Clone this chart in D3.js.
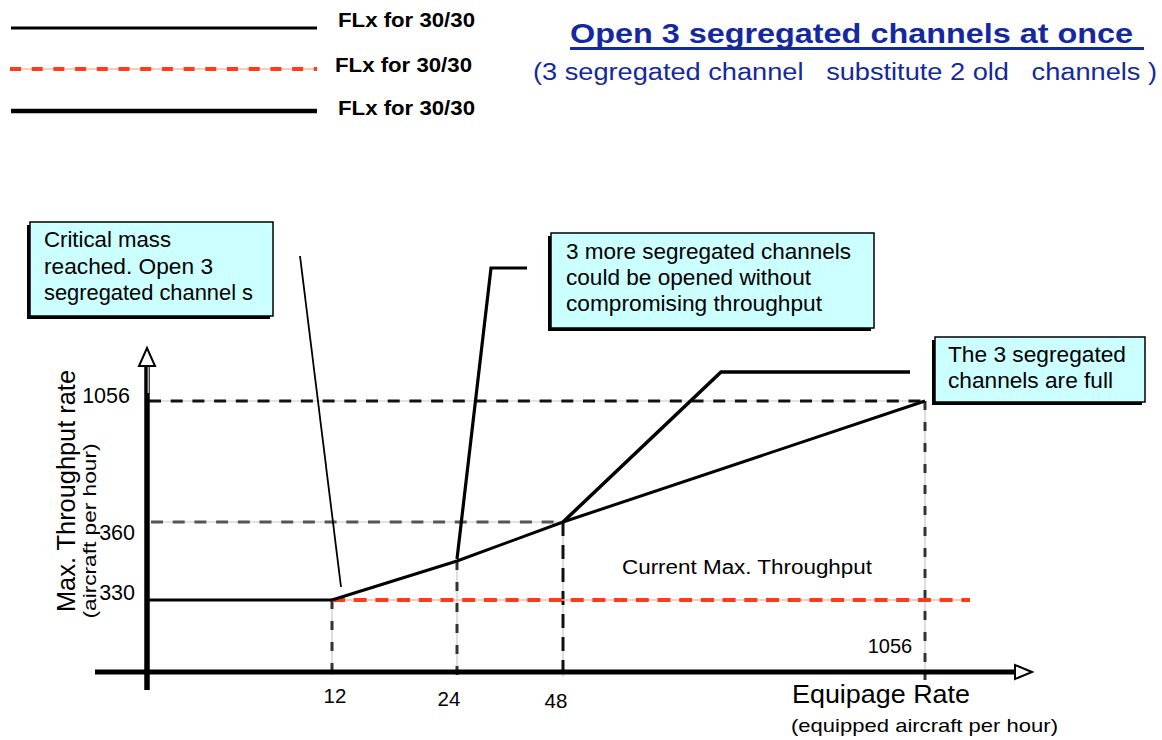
<!DOCTYPE html>
<html><head><meta charset="utf-8">
<script src="https://cdn.jsdelivr.net/npm/d3@7"></script>
<style>body{margin:0;background:#fff}svg{display:block}text{font-family:"Liberation Sans",Arial,sans-serif}</style>
</head><body><svg id="c" width="1162" height="740"></svg>
<script>
// ---- data ----
const xTicks = [12, 24, 48, 1056];
const yTicks = [330, 360, 1056];
const legendLabels = ["FLx for 30/30", "FLx for 30/30", "FLx for 30/30"];
const title = "Open 3 segregated channels at once";
const subtitle = "(3 segregated channel   substitute 2 old   channels )";
const currentMax = 330;                       // current max throughput
const growthLine = [[12,330],[24,345],[48,360],[1056,1056]]; // throughput vs equipage
const callouts = [
  ["Critical mass","reached. Open 3","segregated channel s"],
  ["3 more segregated channels","could be opened without","compromising throughput"],
  ["The 3 segregated","channels are full"]
];
const xTitle = "Equipage Rate", xSub = "(equipped aircraft per hour)";
const yTitle = "Max. Throughput rate", ySub = "(aircraft per hour)";
const noteLabel = "Current Max. Throughput";

// ---- layout ----
const svg = d3.select("#c");
const x = d3.scaleLinear().domain([0,12,24,48,1056]).range([147,332,457,563,925]);
const y = d3.scaleLinear().domain([0,330,360,1056]).range([672,600,522,401]);
const plotRight = 970, axisRight = 1032, axisLeft = 95, axisBottom = 690, axisTop = 348;
const blue = "#1428a0";

function txt(g, px, py, fs, len, s, opts={}){
  const t = g.append("text").attr("x",px).attr("y",py).attr("font-size",fs).text(s);
  if (len) t.attr("textLength",len).attr("lengthAdjust","spacingAndGlyphs");
  if (opts.bold) t.attr("font-weight","bold");
  if (opts.fill) t.attr("fill",opts.fill);
  if (opts.anchor) t.attr("text-anchor",opts.anchor);
  if (opts.pre) t.attr("xml:space","preserve").style("white-space","pre");
  return t;
}

// legend
const leg = svg.append("g");
const legY = [28, 69, 111];
function redDash(sel){
  sel.append("line").attr("stroke","#ffb8a8").attr("stroke-width",1.5);
  sel.append("line").attr("stroke","#ff3b1a").attr("stroke-width",4).attr("stroke-dasharray","11,10.7");
}
leg.append("line").attr("x1",11).attr("x2",317).attr("y1",legY[0]).attr("y2",legY[0]).attr("stroke","#000").attr("stroke-width",3);
const l2 = leg.append("g"); redDash(l2);
l2.selectAll("line").attr("x1",10).attr("x2",317).attr("y1",legY[1]).attr("y2",legY[1]);
leg.append("line").attr("x1",11).attr("x2",317).attr("y1",legY[2]).attr("y2",legY[2]).attr("stroke","#000").attr("stroke-width",4.5);
const legTx = [[338,27],[335,72],[338,115]];
legendLabels.forEach((s,i)=> txt(leg, legTx[i][0], legTx[i][1], 20, 137, s, {bold:true}));

// title
txt(svg, 570, 43, 27, 563, title, {bold:true, fill:blue});
svg.append("line").attr("x1",570).attr("x2",1144).attr("y1",48.5).attr("y2",48.5).attr("stroke",blue).attr("stroke-width",3);
txt(svg, 533, 80, 23, 624, subtitle, {fill:blue, pre:true});

// guide dashed lines
function greyDash(x1,y1,x2,y2,w,dash,col){
  svg.append("line").attr("x1",x1).attr("y1",y1).attr("x2",x2).attr("y2",y2).attr("stroke","#c8c8c8").attr("stroke-width",1.2);
  svg.append("line").attr("x1",x1).attr("y1",y1).attr("x2",x2).attr("y2",y2).attr("stroke",col).attr("stroke-width",w).attr("stroke-dasharray",dash);
}
greyDash(x(0)+2, y(1056), x(1056), y(1056), 3.2, "12,9.7", "#111");
greyDash(x(0)+4, y(360), x(48), y(360), 3, "12,9.7", "#555");
const vExt = {12:3, 24:3, 48:5, 1056:8};
xTicks.forEach(v=>{
  const yv = v===1056 ? 1056 : growthLine.find(p=>p[0]===v)[1];
  greyDash(x(v), y(yv), x(v), y(0)+vExt[v], 3, v===48?"14,9":"9,12", v===48?"#111":"#333");
});

// current max (red dashed)
const rd = svg.append("g"); redDash(rd);
rd.selectAll("line").attr("x1",x(12)).attr("x2",plotRight).attr("y1",y(currentMax)).attr("y2",y(currentMax)).attr("stroke-dasharray",function(){return d3.select(this).attr("stroke-dasharray")?"13,8.7":null;});
// solid segment before equipage threshold
svg.append("line").attr("x1",x(0)).attr("x2",x(12)).attr("y1",y(currentMax)).attr("y2",y(currentMax)).attr("stroke","#000").attr("stroke-width",3);
// growth line
svg.append("path").datum(growthLine).attr("fill","none").attr("stroke","#000").attr("stroke-width",3)
  .attr("d", d3.line().x(d=>x(d[0])).y(d=>y(d[1])));

// axes
svg.append("line").attr("x1",x(0)).attr("x2",x(0)).attr("y1",axisBottom).attr("y2",axisTop+18).attr("stroke","#000").attr("stroke-width",5.5);
svg.append("line").attr("x1",x(0)+1.2).attr("x2",x(0)+1.2).attr("y1",axisTop+18).attr("y2",axisTop+45).attr("stroke","#fff").attr("stroke-width",1);
svg.append("path").attr("d",`M${x(0)},${axisTop} L${x(0)-8},${axisTop+18} L${x(0)+8},${axisTop+18} Z`).attr("fill","#fff").attr("stroke","#000").attr("stroke-width",2);
svg.append("line").attr("x1",axisLeft).attr("x2",axisRight-17).attr("y1",y(0)).attr("y2",y(0)).attr("stroke","#000").attr("stroke-width",5);
svg.append("path").attr("d",`M${axisRight},${y(0)} L${axisRight-17},${y(0)-7} L${axisRight-17},${y(0)+7} Z`).attr("fill","#fff").attr("stroke","#000").attr("stroke-width",2);

// tick labels
const yLab = {330:[135,600], 360:[135,540], 1056:[130,403]};
yTicks.forEach(v=> txt(svg, yLab[v][0], yLab[v][1], 21.5, null, v, {anchor:"end"}));
const xLab = {12:[335,703], 24:[449,706], 48:[556,708], 1056:[890,653]};
xTicks.forEach(v=> txt(svg, xLab[v][0], xLab[v][1], v===1056?20:20.5, null, v, {anchor:"middle"}));

// axis titles
svg.append("text").attr("transform","translate(75,491) rotate(-90)").attr("text-anchor","middle").attr("font-size",26)
  .attr("textLength",242).attr("lengthAdjust","spacingAndGlyphs").text(yTitle);
svg.append("text").attr("transform","translate(96,531) rotate(-90)").attr("text-anchor","middle").attr("font-size",19)
  .attr("textLength",175).attr("lengthAdjust","spacingAndGlyphs").text(ySub);
txt(svg, 792, 703, 25, 178, xTitle);
txt(svg, 791, 732, 19, 267, xSub);
txt(svg, 622, 574, 20, 250, noteLabel);

// callout pointers
svg.append("line").attr("x1",300).attr("y1",256).attr("x2",341).attr("y2",587).attr("stroke","#000").attr("stroke-width",1.8);
svg.append("path").attr("fill","none").attr("stroke","#000").attr("stroke-width",3.2)
  .attr("d",`M527,268 L491,268 L${x(24)},${y(345)-2}`);
svg.append("path").attr("fill","none").attr("stroke","#000").attr("stroke-width",3.5)
  .attr("d",`M910,372 L721,372 L${x(48)},${y(360)}`);

// callout boxes
const boxes = [
  {x:30,y:222,w:243,h:94,tx:44,ty:[247,274,300],fs:21.5,len:[127,169,209]},
  {x:551,y:233,w:323,h:95,tx:566,ty:[259,285,311],fs:22,len:[285,245,256]},
  {x:935,y:337,w:210,h:65,tx:948,ty:[362,388],fs:22,len:[178,165]}
];
boxes.forEach((b,i)=>{
  svg.append("rect").attr("x",b.x-3).attr("y",b.y+3).attr("width",b.w).attr("height",b.h).attr("fill","#000");
  svg.append("rect").attr("x",b.x).attr("y",b.y).attr("width",b.w).attr("height",b.h).attr("fill","#ccffff").attr("stroke","#000").attr("stroke-width",1.5);
  callouts[i].forEach((s,j)=> txt(svg, b.tx, b.ty[j], b.fs, b.len[j], s));
});
</script></body></html>
